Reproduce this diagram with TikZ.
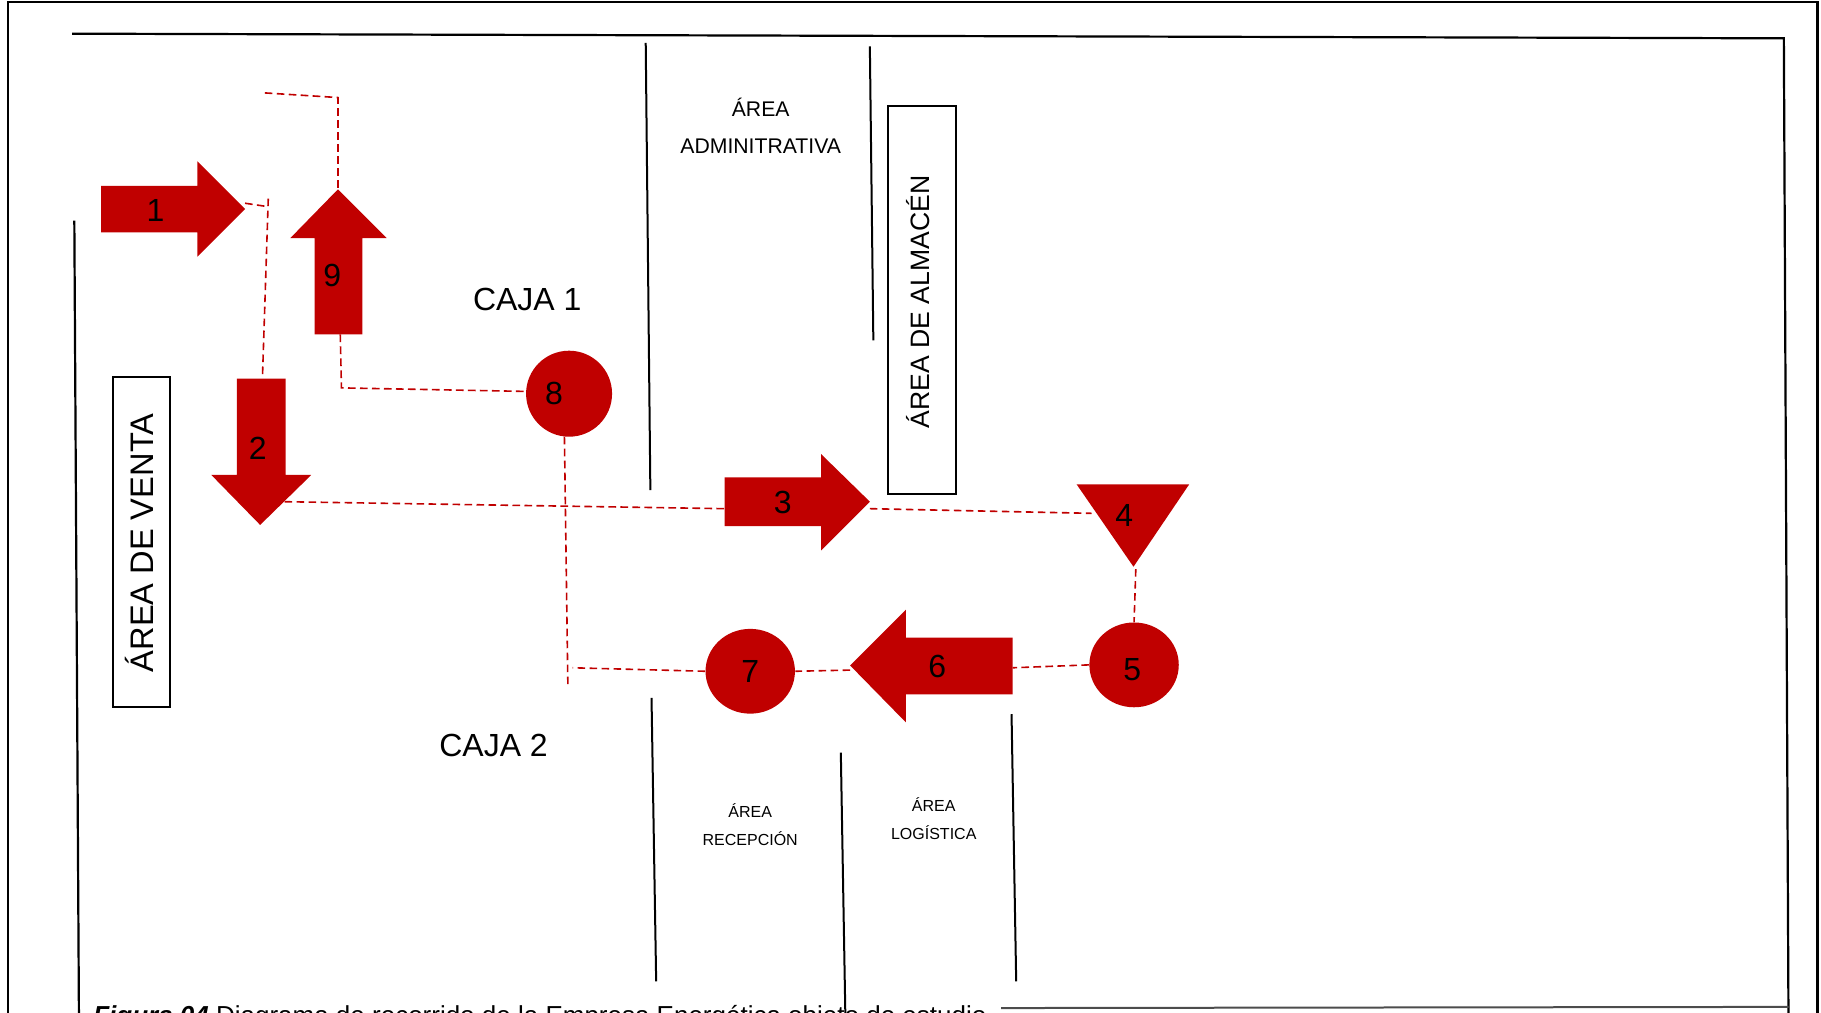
\documentclass[tikz,border=0pt]{standalone}
\usepackage{fontspec}
\setmainfont{Liberation Sans}
\usetikzlibrary{shapes.geometric}
\definecolor{flowred}{HTML}{C00000}
\begin{document}
\begin{tikzpicture}[x=0.5807pt,y=-0.5807pt,
  wall/.style={line width=1pt, black},
  frame/.style={line width=1.1pt, black},
  route/.style={draw=flowred, line width=0.8pt, dash pattern=on 3.8pt off 2.2pt},
  flow/.style={fill=flowred, draw=none},
  num/.style={font=\fontsize{16}{16}\selectfont, anchor=base, inner sep=0pt},
  lbl/.style={anchor=base, inner sep=0pt},
  disc/.style={ellipse, flow, inner sep=0pt}
]
\useasboundingbox (0,0) rectangle (1568,872);
\clip (0,0) rectangle (1568,872);

% outer and inner frames
\draw[frame] (7,880) -- (7,2) -- (1565,2) -- (1565,880);
\draw[frame] (62,29) -- (1536,33) -- (1540,880);
\draw[frame] (64,190) -- (68,880);
\draw[wall, black!70] (862,868) -- (1540,867);

% partition walls
\draw[wall] (556,37) -- (560,422);
\draw[wall] (749,40) -- (752,293);
\draw[wall] (561,601) -- (565,845);
\draw[wall] (724,648) -- (728,880);
\draw[wall] (871,615) -- (875,845);

% area boxes
\node[draw, line width=1pt, minimum width=28.5pt, minimum height=164.9pt, inner sep=0pt] (venta) at (121.5,467) {};
\node[lbl, rotate=90, font=\fontsize{16.3}{16.3}\selectfont] (ventatxt) at (132,467.5) {ÁREA DE VENTA};
\node[draw, line width=1pt, minimum width=33.7pt, minimum height=194pt, inner sep=0pt] (almacen) at (794,258) {};
\node[lbl, rotate=90, font=\fontsize{13.3}{13.3}\selectfont] (almacentxt) at (800,260) {ÁREA DE ALMACÉN};

% area labels
\node[lbl, font=\fontsize{10.6}{10.6}\selectfont] (adm1) at (655,100) {ÁREA};
\node[lbl, font=\fontsize{10.6}{10.6}\selectfont] (adm2) at (655,132) {ADMINITRATIVA};
\node[lbl, font=\fontsize{16}{16}\selectfont] (caja1) at (454,267) {CAJA 1};
\node[lbl, font=\fontsize{16}{16}\selectfont] (caja2) at (425,651) {CAJA 2};
\node[lbl, font=\fontsize{8}{8}\selectfont] (rec1) at (646,704) {ÁREA};
\node[lbl, font=\fontsize{8}{8}\selectfont] (rec2) at (646,728) {RECEPCIÓN};
\node[lbl, font=\fontsize{8}{8}\selectfont] (log1) at (804,699) {ÁREA};
\node[lbl, font=\fontsize{8}{8}\selectfont] (log2) at (804,723) {LOGÍSTICA};

% block arrows of the route
\fill[flow] (87,160) -- (170,160) -- (170,139) -- (211,180) -- (170,221) -- (170,200) -- (87,200) -- cycle;
\fill[flow] (204,326) -- (246,326) -- (246,409) -- (268,409) -- (224,452) -- (182,409) -- (204,409) -- cycle;
\fill[flow] (271,288) -- (271,205) -- (250,205) -- (291,163) -- (333,205) -- (312,205) -- (312,288) -- cycle;
\fill[flow] (624,411) -- (707,411) -- (707,391) -- (749,432) -- (707,474) -- (707,453) -- (624,453) -- cycle;
\fill[flow] (872,549) -- (780,549) -- (780,525) -- (732,573) -- (780,622) -- (780,598) -- (872,598) -- cycle;
\fill[flow] (927,417) -- (1024,417) -- (976,488) -- cycle;

% discs
\node[disc, minimum width=43pt, minimum height=43pt] (c8) at (490,339) {};
\node[disc, minimum width=44.7pt, minimum height=42.4pt] (c7) at (646,578) {};
\node[disc, minimum width=44.7pt, minimum height=42.4pt] (c5) at (976.5,572.5) {};

% step numbers
\node[num] (n1) at (134,191) {1};
\node[num] (n2) at (222,396) {2};
\node[num] (n3) at (674,442) {3};
\node[num] (n4) at (968,453) {4};
\node[num] (n5) at (975,586) {5};
\node[num] (n6) at (807,583) {6};
\node[num] (n7) at (646,588) {7};
\node[num] (n8) at (477,348) {8};
\node[num] (n9) at (286,247) {9};

% connection points on the shapes
\coordinate (a1tip) at (211,175);
\coordinate (a2top) at (226,325);
\coordinate (a2head) at (245,432);
\coordinate (a9tip) at (291,163);
\coordinate (a9base) at (293,288);
\coordinate (a3tail) at (624,438);
\coordinate (a3tip) at (749,438);
\coordinate (t4left) at (940,442);
\coordinate (t4tip) at (978,490);
\coordinate (a6tail) at (872,575);
\coordinate (a6tip) at (732,577);
\coordinate (c8bot) at (486,376);
\coordinate (c8left) at (451,337);

% loose ends and corners of the dashed route
\coordinate (e1) at (228,80);
\coordinate (k1) at (291,84);
\coordinate (k2) at (231,178);
\coordinate (k2t) at (231,171);
\coordinate (k3) at (294,334);
\coordinate (e2) at (489,592);
\coordinate (k4) at (493,575);

% dashed route
\draw[route] (e1) -- (k1) -- (a9tip);
\draw[route] (a1tip) -- (k2);
\draw[route] (k2t) -- (a2top);
\draw[route] (a9base) -- (k3) -- (c8left);
\draw[route] (c8bot) -- (e2);
\draw[route] (a2head) -- (a3tail);
\draw[route] (a3tip) -- (t4left);
\draw[route] (t4tip) -- (c5.north);
\draw[route] (c5.west) -- (a6tail);
\draw[route] (a6tip) -- (c7.east);
\draw[route] (c7.west) -- (k4);

% caption, running off the lower edge
\node[anchor=base west, inner sep=0pt, font=\fontsize{13}{13}\selectfont] (cap) at (80,882)
  {\textbf{\textit{Figura 04}} Diagrama de recorrido de la Empresa Energética objeto de estudio};
\end{tikzpicture}
\end{document}
